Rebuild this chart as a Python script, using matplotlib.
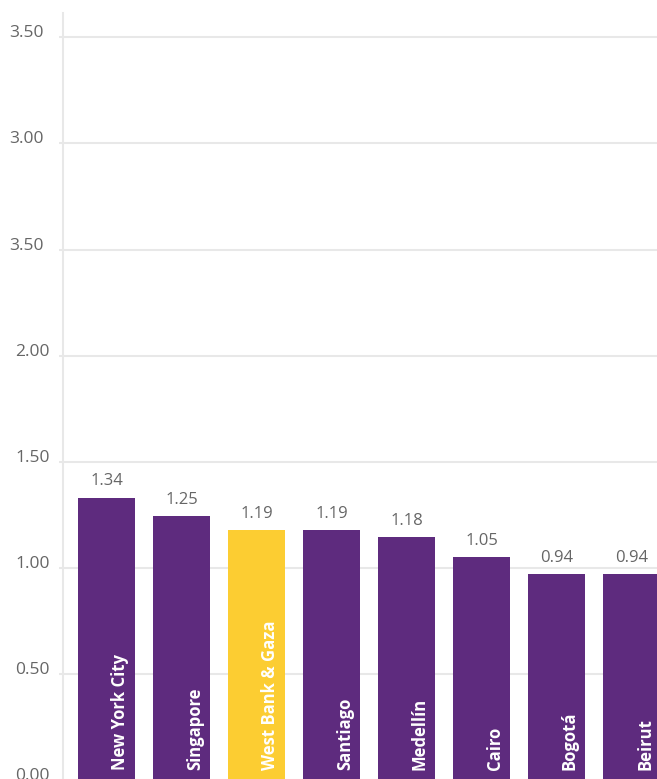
import matplotlib.pyplot as plt
import matplotlib.transforms as mtransforms

cities = ["New York City", "Singapore", "West Bank & Gaza", "Santiago",
          "Medellín", "Cairo", "Bogotá", "Beirut"]
# bar heights as drawn in the picture
heights = [1.33, 1.245, 1.178, 1.178, 1.145, 1.05, 0.97, 0.97]
# value labels as printed above the bars
value_labels = ["1.34", "1.25", "1.19", "1.19", "1.18", "1.05", "0.94", "0.94"]
highlight = "West Bank & Gaza"

ytick_vals = [0.0, 0.5, 1.0, 1.5, 2.0, 2.5, 3.0, 3.5]
ytick_labels = ["0.00", "0.50", "1.00", "1.50", "2.00", "3.50", "3.00", "3.50"]

purple = "#5E2B7E"
yellow = "#FCCD32"
grid_col = "#E8E8E8"
text_col = "#666666"

plt.rcParams["font.family"] = ["Open Sans", "DejaVu Sans"]

fig = plt.figure(figsize=(6.57, 7.79), dpi=100)
ax = fig.add_axes([63 / 657, -1 / 779, 1 - 63 / 657, 767 / 779])

x = list(range(len(cities)))
colors = [yellow if c == highlight else purple for c in cities]
ax.bar(x, heights, width=0.76, color=colors, zorder=3)

ax.set_xlim(-0.58, 7.34)
ax.set_ylim(0, 3.615)

ax.set_yticks(ytick_vals)
ax.set_yticklabels(ytick_labels, fontsize=12.5, color=text_col)
ax.set_xticks([])
ax.yaxis.grid(True, color=grid_col, linewidth=1.5, zorder=0)
ax.tick_params(axis="y", length=3, width=1.5, color=grid_col, pad=6.5)

# labels sit a little above their gridlines; the upper three are set further left
for k, lbl in enumerate(ax.get_yticklabels()):
    dx = -6 / 100 if k >= 5 else 0
    off = mtransforms.ScaledTranslation(dx, 6 / 100, fig.dpi_scale_trans)
    lbl.set_transform(lbl.get_transform() + off)

for s in ["top", "right", "bottom"]:
    ax.spines[s].set_visible(False)
ax.spines["left"].set_color(grid_col)
ax.spines["left"].set_linewidth(1.5)

for i, (h, lab, name) in enumerate(zip(heights, value_labels, cities)):
    ax.annotate(lab, (i, h), xytext=(0, 6), textcoords="offset points",
                ha="center", va="bottom", fontsize=12, color=text_col)
    ax.text(i + 0.18, 0.047, name, rotation=90, ha="center", va="bottom",
            fontsize=12, fontweight="bold", color="white", zorder=4)

fig.savefig("out.png", dpi=100, facecolor="white")
